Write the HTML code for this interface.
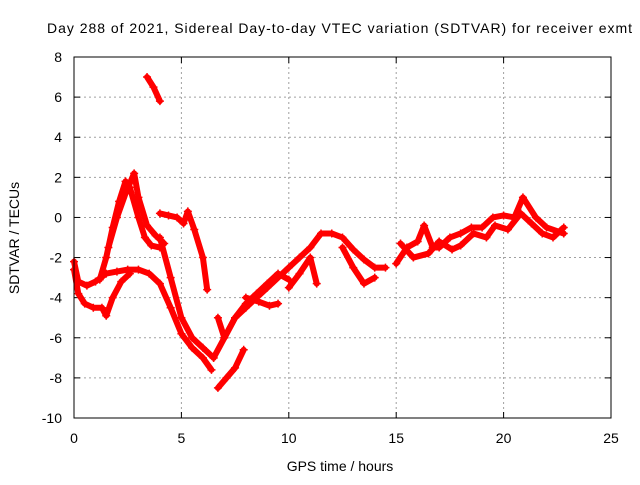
<!DOCTYPE html>
<html><head><meta charset="utf-8"><style>
body{margin:0;background:#fff;width:640px;height:480px;overflow:hidden}
svg text{font-family:"Liberation Sans",sans-serif;font-size:14px;fill:#000}
</style></head><body>
<svg id="chart" width="640" height="480" xmlns="http://www.w3.org/2000/svg">
<text x="47" y="33" textLength="585" lengthAdjust="spacing">Day 288 of 2021, Sidereal Day-to-day VTEC variation (SDTVAR) for receiver exmt</text>
<g id="grid"></g>
<g id="ticks"></g>
<g id="series"></g>
<rect x="74" y="57" width="537" height="361" fill="none" stroke="#000" stroke-width="1"/>
<text x="340" y="471" text-anchor="middle">GPS time / hours</text>
<text transform="translate(19,238) rotate(-90)" text-anchor="middle">SDTVAR / TECUs</text>
</svg>
<script>
const xTicks=[0,5,10,15,20,25];
const yTicks=[8,6,4,2,0,-2,-4,-6,-8,-10];
const trackA=[[0,-2.2],[0.2,-3.2],[0.6,-3.4],[1,-3.2],[1.5,-2.8],[2,-2.7],[2.5,-2.6],[3,-2.6],[3.5,-2.8],[4,-3.3],[4.5,-4.5],[5,-5.8],[5.5,-6.5],[6,-7],[6.4,-7.6]];
const trackB=[[0,-2.6],[0.2,-3.8],[0.5,-4.3],[0.9,-4.5],[1.3,-4.5],[1.5,-4.9],[1.8,-4],[2.2,-3.2],[2.6,-2.8]];
const trackC=[[1.2,-3.1],[1.5,-2],[1.8,-0.5],[2.1,0.8],[2.4,1.8],[2.6,1.5],[3,0],[3.3,-1],[3.6,-1.4],[4,-1.5]];
const trackD=[[1.6,-1.5],[2,0],[2.4,1.2],[2.8,2.2],[3,1],[3.4,-0.4],[3.8,-0.9],[4.2,-1.3]];
const trackE=[[4,0.2],[4.4,0.1],[4.8,0],[5.1,-0.3],[5.3,0.3],[5.6,-0.6],[6,-2],[6.2,-3.6]];
const trackF=[[4,-1],[4.5,-3],[5,-5],[5.5,-6],[6,-6.5],[6.5,-7]];
const trackG=[[3.4,7],[3.7,6.5],[4,5.8]];
const trackH=[[6.7,-8.5],[7.1,-8],[7.5,-7.5],[7.9,-6.6]];
const trackI=[[6.7,-5],[7,-6],[7.5,-5],[8,-4.5],[9,-3.5],[10,-2.5],[10.5,-2],[11,-1.5],[11.5,-0.8],[12,-0.8],[12.5,-1],[13,-1.6],[13.5,-2.1],[14,-2.5],[14.5,-2.5]];
const trackJ=[[6.5,-7],[7,-6],[7.5,-5],[8,-4.3],[8.5,-3.8],[9,-3.3],[9.5,-2.8],[10,-3.1]];
const trackK=[[8,-4],[8.6,-4.2],[9.1,-4.4],[9.5,-4.3]];
const trackL=[[10,-3.5],[10.5,-2.8],[11,-2],[11.3,-3.3]];
const trackM=[[12.5,-1.5],[13,-2.5],[13.5,-3.3],[14,-3]];
const trackN=[[15,-2.3],[15.5,-1.5],[16,-1.2],[16.3,-0.4],[16.7,-1.5],[17,-1.5],[17.5,-1],[18,-0.8],[18.5,-0.5],[19,-0.5],[19.5,0],[20,0.1],[20.5,0],[20.9,1],[21.5,0],[22,-0.5],[22.8,-0.8]];
const trackO=[[15.2,-1.3],[15.8,-2],[16.5,-1.8],[17,-1.2],[17.6,-1.6],[18,-1.4],[18.6,-0.8],[19.2,-1],[19.6,-0.4],[20.2,-0.6],[20.8,0.2],[21.3,-0.3],[21.8,-0.8],[22.3,-1],[22.8,-0.5]];
const tracks=[trackA,trackB,trackC,trackD,trackE,trackF,trackG,trackH,trackI,trackJ,trackK,trackL,trackM,trackN,trackO];
const NS="http://www.w3.org/2000/svg";
const X=v=>74+v*537/25, Y=v=>57+(8-v)*361/18;
function mk(t,p,a){const e=document.createElementNS(NS,t);for(const k in a)e.setAttribute(k,a[k]);p.appendChild(e);return e;}
const grid=document.getElementById('grid'),ticks=document.getElementById('ticks'),ser=document.getElementById('series');
xTicks.forEach(v=>{
 if(v>0&&v<25){const l=mk('line',grid,{x1:X(v),x2:X(v),y1:57,y2:418,stroke:'#a0a0a0','stroke-dasharray':'2,3'});
 }
 const t=mk('text',ticks,{x:X(v),y:443,'text-anchor':'middle'});t.textContent=v;
 
 mk('line',ticks,{x1:X(v),x2:X(v),y1:418,y2:412,stroke:'#000'});mk('line',ticks,{x1:X(v),x2:X(v),y1:57,y2:63,stroke:'#000'});
});
yTicks.forEach(v=>{
 if(v<8&&v>-10){const l=mk('line',grid,{x1:74,x2:611,y1:Y(v),y2:Y(v),stroke:'#a0a0a0','stroke-dasharray':'2,3'});
 }
 const t=mk('text',ticks,{x:62,y:Y(v)+5,'text-anchor':'end'});t.textContent=v;
 
 mk('line',ticks,{x1:74,x2:80,y1:Y(v),y2:Y(v),stroke:'#000'});mk('line',ticks,{x1:611,x2:605,y1:Y(v),y2:Y(v),stroke:'#000'});
});
tracks.forEach((tr,i)=>{
 const pl=mk('polyline',ser,{points:tr.map(p=>X(p[0])+','+Y(p[1])).join(' '),fill:'none',stroke:'#ff0000','stroke-width':6,'stroke-linejoin':'round','stroke-linecap':'round'});
 
 
 tr.forEach(p=>{
  const x=X(p[0]),y=Y(p[1]);
  const m=mk('path',ser,{d:`M${x-4},${y}H${x+4}M${x},${y-4}V${y+4}`,stroke:'#ff0000','stroke-width':1.5});
  
  
 });
});
</script>
</body></html>
